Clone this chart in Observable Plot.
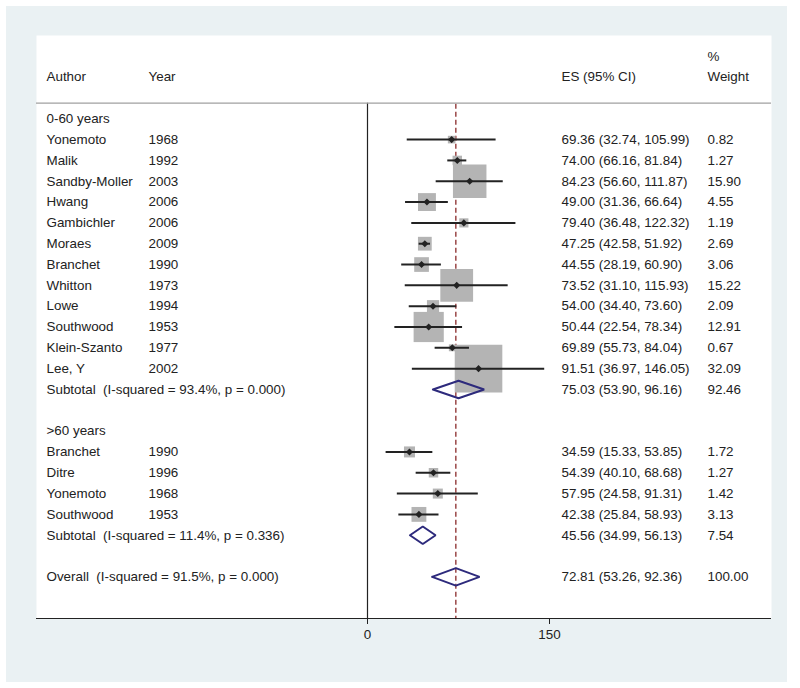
<!DOCTYPE html>
<html><head><meta charset="utf-8">
<script src="https://cdn.jsdelivr.net/npm/d3@7"></script>
<script src="https://cdn.jsdelivr.net/npm/@observablehq/plot@0.6"></script>
<style>
body{margin:0;background:#fff;}
#chart{position:absolute;left:6px;top:6px;}
</style>
</head><body><div id="chart"></div>
<script>
// ---- data ----
const group1Label = "0-60 years";
const authors1 = ["Yonemoto","Malik","Sandby-Moller","Hwang","Gambichler","Moraes","Branchet","Whitton","Lowe","Southwood","Klein-Szanto","Lee, Y"];
const years1   = [1968,1992,2003,2006,2006,2009,1990,1973,1994,1953,1977,2002];
const es1      = [69.36,74.00,84.23,49.00,79.40,47.25,44.55,73.52,54.00,50.44,69.89,91.51];
const lo1      = [32.74,66.16,56.60,31.36,36.48,42.58,28.19,31.10,34.40,22.54,55.73,36.97];
const hi1      = [105.99,81.84,111.87,66.64,122.32,51.92,60.90,115.93,73.60,78.34,84.04,146.05];
const w1       = [0.82,1.27,15.90,4.55,1.19,2.69,3.06,15.22,2.09,12.91,0.67,32.09];
const sub1     = {label:"Subtotal  (I-squared = 93.4%, p = 0.000)", es:75.03, lo:53.90, hi:96.16, w:92.46};

const group2Label = ">60 years";
const authors2 = ["Branchet","Ditre","Yonemoto","Southwood"];
const years2   = [1990,1996,1968,1953];
const es2      = [34.59,54.39,57.95,42.38];
const lo2      = [15.33,40.10,24.58,25.84];
const hi2      = [53.85,68.68,91.31,58.93];
const w2       = [1.72,1.27,1.42,3.13];
const sub2     = {label:"Subtotal  (I-squared = 11.4%, p = 0.336)", es:45.56, lo:34.99, hi:56.13, w:7.54};

const overall  = {label:"Overall  (I-squared = 91.5%, p = 0.000)", es:72.81, lo:53.26, hi:92.36, w:100.00};

const headers = [
  {col:"author", text:"Author", row:-2},
  {col:"year", text:"Year", row:-2},
  {col:"es", text:"ES (95% CI)", row:-2},
  {col:"w", text:"Weight", row:-2},
  {col:"w", text:"%", row:-3}
];
const xTicks = [0, 150];

// ---- build rows ----
const studies = [];
const labels = [];
const summaries = [];
let r = 0;
labels.push({row:r++, text:group1Label});
authors1.forEach((a,i)=>studies.push({row:r++, author:a, year:years1[i], es:es1[i], lo:lo1[i], hi:hi1[i], w:w1[i]}));
summaries.push({...sub1, row:r++});
r++;
labels.push({row:r++, text:group2Label});
authors2.forEach((a,i)=>studies.push({row:r++, author:a, year:years2[i], es:es2[i], lo:lo2[i], hi:hi2[i], w:w2[i]}));
summaries.push({...sub2, row:r++});
r++;
summaries.push({...overall, row:r++});

const fmt = v => v.toFixed(2);
const ciText = d => `${fmt(d.es)} (${fmt(d.lo)}, ${fmt(d.hi)})`;
const leftTexts = [
  ...labels.map(d=>({row:d.row, text:d.text})),
  ...studies.map(d=>({row:d.row, text:d.author})),
  ...summaries.map(d=>({row:d.row, text:d.label}))
];
const yearTexts = studies.map(d=>({row:d.row, text:String(d.year)}));
const esTexts = [...studies, ...summaries].map(d=>({row:d.row, text:ciText(d)}));
const wTexts = [...studies, ...summaries].map(d=>({row:d.row, text:fmt(d.w)}));

const dh = 0.42;
const diamondPts = summaries.flatMap((d,i)=>[
  {id:i, x:d.lo, y:d.row},
  {id:i, x:d.es, y:d.row-dh},
  {id:i, x:d.hi, y:d.row},
  {id:i, x:d.es, y:d.row+dh},
  {id:i, x:d.lo, y:d.row}
]);

const ink = "#222222";
const textOpts = (dx) => ({y:"row", text:"text", frameAnchor:"left", textAnchor:"start", dx, fill:ink});

const chart = Plot.plot({
  width: 781,
  height: 676,
  marginLeft: 30,
  marginRight: 16,
  marginTop: 29,
  marginBottom: 64,
  style: {background:"#eaf1f3", fontFamily:"'Liberation Sans', Arial, sans-serif", fontSize:"13.4px", color:ink},
  x: {domain:[0,150], range:[361,543]},
  y: {domain:[-4,24], range:[29,612]},
  r: {type:"identity"},
  marks: [
    Plot.frame({fill:"white", stroke:null}),
    Plot.ruleX([overall.es], {y1:-0.7, y2:24, stroke:"#8b2b2b", strokeWidth:1.3, strokeDasharray:"5,3"}),
    Plot.dot(studies, {x:"es", y:"row", r:d=>8.4*Math.sqrt(d.w)/Math.sqrt(Math.PI), symbol:"square", fill:"#b4b4b4", stroke:null}),
    Plot.ruleY(studies, {y:"row", x1:"lo", x2:"hi", stroke:ink, strokeWidth:2}),
    Plot.dot(studies, {x:"es", y:"row", r:3.2, symbol:"diamond2", fill:ink, stroke:null}),
    Plot.line(diamondPts, {x:"x", y:"y", z:"id", stroke:"#2d2a7c", strokeWidth:2, strokeLinejoin:"miter", curve:"linear"}),
    Plot.ruleX([0], {y1:-0.75, y2:24, stroke:ink, strokeWidth:1.2}),
    Plot.ruleY([-0.75], {stroke:"#a0a0a0", strokeWidth:1.2}),
    Plot.ruleY([24], {stroke:ink, strokeWidth:1.2}),
    Plot.text(leftTexts, textOpts(10)),
    Plot.text(yearTexts, textOpts(112)),
    Plot.text(esTexts, textOpts(525)),
    Plot.text(wTexts, textOpts(671)),
    Plot.text(headers.filter(d=>d.col==="author"), textOpts(10)),
    Plot.text(headers.filter(d=>d.col==="year"), textOpts(112)),
    Plot.text(headers.filter(d=>d.col==="es"), textOpts(525)),
    Plot.text(headers.filter(d=>d.col==="w"), textOpts(671)),
    Plot.axisX({ticks:xTicks, tickSize:6, tickPadding:5, anchor:"bottom", label:null, stroke:ink, fill:ink, fontSize:13.4, tickFormat:d=>String(d)}),
    Plot.axisY({ticks:[], label:null})
  ]
});
document.getElementById("chart").appendChild(chart);
</script></body></html>
